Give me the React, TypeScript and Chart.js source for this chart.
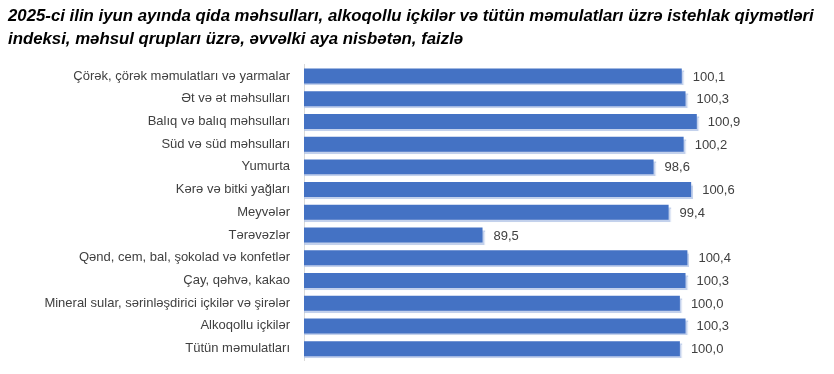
import React, { useEffect, useRef } from "react";
import { Chart, registerables } from "chart.js";

Chart.register(...registerables);

const titleLines = [
  "2025-ci ilin iyun ayında qida məhsulları, alkoqollu içkilər və tütün məmulatları üzrə istehlak qiymətləri",
  "indeksi, məhsul qrupları üzrə, əvvəlki aya nisbətən, faizlə",
];

const categories = [
  "Çörək, çörək məmulatları və yarmalar",
  "Ət və ət məhsulları",
  "Balıq və balıq məhsulları",
  "Süd və süd məhsulları",
  "Yumurta",
  "Kərə və bitki yağları",
  "Meyvələr",
  "Tərəvəzlər",
  "Qənd, cem, bal, şokolad və konfetlər",
  "Çay, qəhvə, kakao",
  "Mineral sular, sərinləşdirici içkilər və şirələr",
  "Alkoqollu içkilər",
  "Tütün məmulatları",
];

const values = [100.1, 100.3, 100.9, 100.2, 98.6, 100.6, 99.4, 89.5, 100.4, 100.3, 100.0, 100.3, 100.0];

const axisMin = 80;
const axisMax = 108.2;

const FONT = "'Liberation Sans', Arial, sans-serif";

const shadowPlugin = {
  id: "barShadow",
  beforeDatasetDraw(chart: any) {
    const ctx = chart.ctx;
    ctx.save();
    ctx.shadowColor = "rgba(170,190,228,0.7)";
    ctx.shadowOffsetX = 2;
    ctx.shadowOffsetY = 2;
    ctx.shadowBlur = 1;
  },
  afterDatasetDraw(chart: any) {
    chart.ctx.restore();
  },
};

const valueLabelPlugin = {
  id: "valueLabels",
  afterDatasetsDraw(chart: any) {
    const ctx = chart.ctx;
    const meta = chart.getDatasetMeta(0);
    ctx.save();
    ctx.font = `13px ${FONT}`;
    ctx.fillStyle = "#404040";
    ctx.textAlign = "left";
    ctx.textBaseline = "middle";
    meta.data.forEach((bar: any, i: number) => {
      const txt = values[i].toFixed(1).replace(".", ",");
      ctx.fillText(txt, bar.x + 11, bar.y + 1);
    });
    ctx.restore();
  },
};

export default function App() {
  const ref = useRef<HTMLCanvasElement | null>(null);
  useEffect(() => {
    document.body.style.margin = "0";
    const chart = new Chart(ref.current!, {
      type: "bar",
      data: {
        labels: categories,
        datasets: [
          {
            data: values,
            backgroundColor: "#4472C4",
            borderWidth: 0,
            barPercentage: 0.66,
            categoryPercentage: 1,
          },
        ],
      },
      options: {
        indexAxis: "y",
        animation: false,
        responsive: false,
        layout: { padding: { left: 8, right: 0, top: 0, bottom: 14 } },
        plugins: {
          legend: { display: false },
          tooltip: { enabled: false },
          title: {
            display: true,
            text: titleLines,
            align: "start",
            color: "#000000",
            font: { family: FONT, size: 16.8, weight: "bold", style: "italic", lineHeight: 1.37 },
            padding: { top: 4.6, bottom: 14 },
          },
        },
        scales: {
          x: {
            display: false,
            min: axisMin,
            max: axisMax,
          },
          y: {
            afterFit(scale: any) {
              scale.width = 296;
              scale.paddingTop = 0;
              scale.paddingBottom = 0;
            },
            grid: { display: false, drawTicks: false },
            border: { display: true, color: "#d9d9d9", width: 1 },
            ticks: {
              padding: 14,
              color: "#404040",
              font: { family: FONT, size: 13 },
            },
          },
        },
      },
      plugins: [shadowPlugin, valueLabelPlugin],
    });
    return () => chart.destroy();
  }, []);
  return (
    <div style={{ width: 834, height: 374 }}>
      <canvas ref={ref} width={834} height={374} />
    </div>
  );
}
